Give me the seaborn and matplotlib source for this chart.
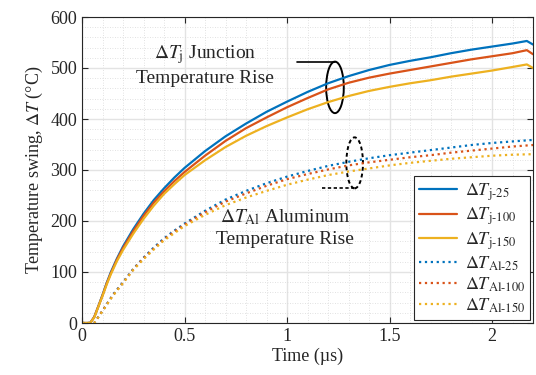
import numpy as np
import pandas as pd
import matplotlib
matplotlib.use("Agg")
import matplotlib.pyplot as plt
import seaborn as sns
from matplotlib.patches import Ellipse
from matplotlib.ticker import MultipleLocator

# ---- data ----
t_j = [0.0, 0.04, 0.06, 0.08, 0.1, 0.12, 0.14, 0.17, 0.2, 0.25, 0.3, 0.35, 0.4, 0.45, 0.5, 0.6, 0.7, 0.8, 0.9,
       1.0, 1.1, 1.2, 1.3, 1.4, 1.5, 1.6, 1.7, 1.8, 1.9, 2.0, 2.1, 2.17, 2.2]
tj_25  = [0, 0, 12, 33, 55, 78, 99, 126, 150, 184, 214, 241, 264, 285, 304, 337, 366, 391, 414,
          434, 453, 470, 484, 496, 506, 514, 521, 529, 536, 542, 548, 553, 546]
tj_100 = [0, 0, 12, 33, 54, 77, 97, 124, 147, 180, 210, 236, 258, 278, 296, 328, 357, 382, 403,
          423, 441, 458, 471, 481, 489, 496, 503, 510, 517, 523, 529, 535, 527]
tj_150 = [0, 0, 11, 32, 53, 75, 95, 121, 143, 175, 204, 230, 253, 272, 290, 319, 345, 367, 386,
          403, 419, 433, 445, 455, 463, 470, 476, 483, 489, 495, 502, 507, 500]

t_al = [0.0, 0.06, 0.1, 0.15, 0.2, 0.25, 0.3, 0.35, 0.4, 0.45, 0.5, 0.6, 0.7, 0.8, 0.9,
        1.0, 1.1, 1.2, 1.3, 1.4, 1.5, 1.6, 1.7, 1.8, 1.9, 2.0, 2.1, 2.2]
tal_25  = [0, 0, 24, 55, 80, 106, 128, 148, 166, 181, 195, 220, 242, 259, 274,
           287, 298, 308, 316, 323, 329, 334, 339, 344, 349, 353, 356, 359]
tal_100 = [0, 0, 24, 54, 79, 105, 127, 146, 164, 179, 193, 217, 238, 254, 269,
           282, 292, 301, 309, 315, 320, 325, 329, 334, 338, 342, 346, 349]
tal_150 = [0, 0, 23, 53, 78, 104, 125, 144, 162, 176, 190, 212, 231, 246, 259,
           271, 281, 290, 297, 303, 309, 314, 318, 322, 325, 328, 330, 331]

HY = "\u2010"
labels = [r"$\Delta T_{\mathrm{j" + HY + "25}}$", r"$\Delta T_{\mathrm{j" + HY + "100}}$", r"$\Delta T_{\mathrm{j" + HY + "150}}$",
          r"$\Delta T_{\mathrm{Al" + HY + "25}}$", r"$\Delta T_{\mathrm{Al" + HY + "100}}$", r"$\Delta T_{\mathrm{Al" + HY + "150}}$"]

colors = ["#0072BD", "#D95319", "#EDB120"]

sns.set_style("ticks")
plt.rcParams["font.family"] = ["Liberation Serif", "DejaVu Serif"]
plt.rcParams["mathtext.fontset"] = "stix"

fig = plt.figure(figsize=(5.36, 3.75), dpi=100)
ax = fig.add_axes([82/536, 1-323/375, (533-82)/536, (323-17)/375])

series = [(t_j, tj_25, 0, "-"), (t_j, tj_100, 1, "-"), (t_j, tj_150, 2, "-"),
          (t_al, tal_25, 0, ":"), (t_al, tal_100, 1, ":"), (t_al, tal_150, 2, ":")]
for (tx, vy, ci, ls), lab in zip(series, labels):
    df = pd.DataFrame({"t": tx, "v": vy})
    sns.lineplot(data=df, x="t", y="v", ax=ax, color=colors[ci], linestyle=ls,
                 linewidth=1.6, estimator=None, sort=False, label=lab)

ax.set_xlim(0, 2.2)
ax.set_ylim(0, 600)
ax.xaxis.set_major_locator(MultipleLocator(0.5))
ax.xaxis.set_minor_locator(MultipleLocator(0.1))
ax.yaxis.set_major_locator(MultipleLocator(100))
ax.yaxis.set_minor_locator(MultipleLocator(20))
ax.set_xticks([0, 0.5, 1, 1.5, 2])
ax.set_xticklabels(["0", "0.5", "1", "1.5", "2"])
ax.grid(which="major", color="#e3e3e3", linewidth=1.0, linestyle="-")
ax.grid(which="minor", color="#d8d8d8", linewidth=0.6, linestyle=(0, (1, 2)))
ax.set_axisbelow(True)
ax.tick_params(which="major", direction="in", top=True, right=True, length=4, labelsize=13, width=0.8)
ax.tick_params(which="minor", length=0)
for s in ax.spines.values():
    s.set_color("#262626")
    s.set_linewidth(0.8)

ax.set_xlabel("Time (\u00b5s)", fontsize=13, labelpad=2)
ax.set_ylabel("Temperature swing, $\\Delta T$ (\u00b0C)", fontsize=13, labelpad=4)

# annotations
ax.text(0.6, 526, r"$\Delta T_{\mathrm{j}}$ Junction", fontsize=14, ha="center", va="center")
ax.text(0.6, 480, "Temperature Rise", fontsize=14, ha="center", va="center")
ax.text(0.99, 207, r"$\Delta T_{\mathrm{Al}}$ Aluminum", fontsize=14, ha="center", va="center")
ax.text(0.99, 163, "Temperature Rise", fontsize=14, ha="center", va="center")

ax.plot([1.047, 1.234], [512, 512], color="black", linewidth=1.2)
ax.add_patch(Ellipse((1.234, 462), 0.086, 101, fill=False, edgecolor="black", linewidth=1.4))
ax.plot([1.17, 1.33], [264, 264], color="black", linewidth=1.2, linestyle=(0, (2, 1.5)))
ax.add_patch(Ellipse((1.33, 314), 0.081, 100, fill=False, edgecolor="black", linewidth=1.4, linestyle=(0, (2, 1.5))))

leg = ax.legend(loc="lower right", fontsize=13, frameon=True, fancybox=False,
                edgecolor="#262626", framealpha=1, borderpad=0.3, labelspacing=0.15,
                handlelength=2.1, handletextpad=0.4, borderaxespad=0.15)
leg.get_frame().set_linewidth(0.8)

fig.savefig("out.png", dpi=100)
